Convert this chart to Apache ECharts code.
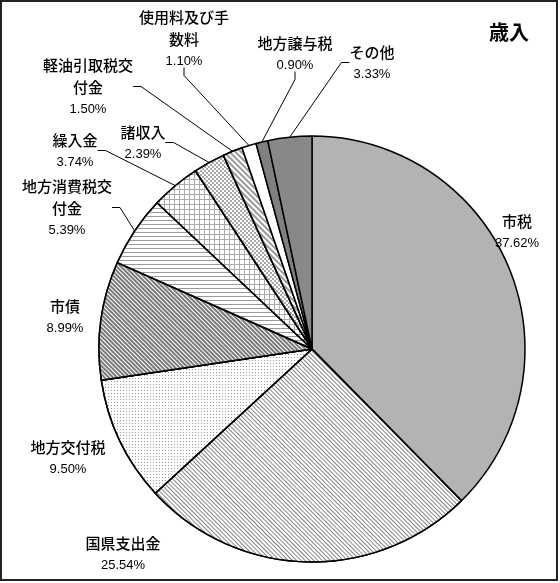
<!DOCTYPE html>
<html>
<head>
<meta charset="utf-8">
<title>歳入</title>
<script src="https://cdn.jsdelivr.net/npm/echarts@6/dist/echarts.min.js"></script>
<style>
  html,body{margin:0;padding:0;background:#fff;}
  #main{width:560px;height:583px;}
</style>
</head>
<body>
<div id="main"></div>
<script>
// 歳入の内訳（%）
var names = ['市税', '国県支出金', '地方交付税', '市債', '地方消費税交付金', '繰入金', '諸収入', '軽油引取税交付金', '使用料及び手数料', '地方譲与税', 'その他'];
var values = [37.62, 25.54, 9.50, 8.99, 5.39, 3.74, 2.39, 1.50, 1.10, 0.90, 3.33];

// ラベルの位置（中心）と引き出し線の有無
var labelPos = [[517, 232], [123, 554], [68, 458], [65, 317], [67, 208], [75, 151], [143, 143], [88, 87], [184, 39], [295, 54], [372, 63]];
var showLine = [false, false, false, false, true, true, true, true, true, true, true];

var D4 = Math.PI / 4;
var sliceStyles = [
    {color: '#b3b3b3'},
    {color: '#fff', decal: {symbol: 'rect', symbolSize: 1, dashArrayX: [1, 0], dashArrayY: [1, 1.2], rotation: D4, color: '#858585'}},
    {color: '#fff', decal: {symbol: 'rect', symbolSize: 1, dashArrayX: [1, 2], dashArrayY: [1, 2], color: '#999'}},
    {color: '#fff', decal: {symbol: 'rect', symbolSize: 1, dashArrayX: [1, 0], dashArrayY: [1.2, 1], rotation: D4, color: '#7a7a7a'}},
    {color: '#fff', decal: {symbol: 'rect', symbolSize: 1, dashArrayX: [1, 0], dashArrayY: [1, 2.5], color: '#999'}},
    {color: '#aaa', decal: {symbol: 'rect', symbolSize: 1, dashArrayX: [4, 1], dashArrayY: [4, 1], color: '#fff'}},
    {color: '#fff', decal: {symbol: 'rect', symbolSize: 1, dashArrayX: [[2, 2], [0, 2, 2, 0]], dashArrayY: [2, 0], color: '#a8a8a8'}},
    {color: '#fff', decal: {symbol: 'rect', symbolSize: 1, dashArrayX: [1, 0], dashArrayY: [2, 2], rotation: D4, color: '#999'}},
    {color: '#fff'},
    {color: '#808080'},
    {color: '#888888'}
];

function wrapName(n){
    var parts = [];
    for(var i=0;i<n.length;i+=6){
        parts.push('{a|' + n.slice(i, i+6) + '}');
    }
    return parts.join('\n');
}

var seriesData = [];
for(var i=0;i<names.length;i++){
    seriesData.push({
        name: names[i],
        value: values[i],
        itemStyle: sliceStyles[i],
        labelLine: {show: showLine[i]}
    });
}

var myChart = echarts.init(document.getElementById('main'));
myChart.setOption({
    animation: false,
    title: {
        text: '歳入',
        right: 26,
        top: 17,
        textStyle: {fontSize: 20, fontWeight: 'bold', color: '#000', fontFamily: 'Noto Sans CJK JP'}
    },
    graphic: [{
        type: 'rect',
        shape: {x: 1, y: 1, width: 556, height: 579},
        style: {fill: null, stroke: '#222', lineWidth: 2},
        silent: true
    }],
    series: [{
        type: 'pie',
        center: [312, 349],
        radius: 213,
        startAngle: 90,
        clockwise: true,
        avoidLabelOverlap: false,
        data: seriesData,
        itemStyle: {borderColor: '#000', borderWidth: 1.5},
        emphasis: {disabled: true},
        label: {
            show: true,
            position: 'outside',
            formatter: function(p){
                return wrapName(p.name) + '\n{b|' + p.value.toFixed(2) + '%}';
            },
            rich: {
                a: {fontSize: 15, lineHeight: 22, color: '#000', fontFamily: 'Noto Sans CJK JP', fontWeight: 500},
                b: {fontSize: 13, lineHeight: 22, color: '#000', fontFamily: 'Liberation Sans'}
            }
        },
        labelLine: {
            length: 10,
            length2: 8,
            smooth: false,
            lineStyle: {color: '#000', width: 1}
        },
        labelLayout: function(params){
            var pos = labelPos[params.dataIndex];
            return {x: pos[0], y: pos[1], align: 'center', verticalAlign: 'middle'};
        }
    }]
});
</script>
</body>
</html>
